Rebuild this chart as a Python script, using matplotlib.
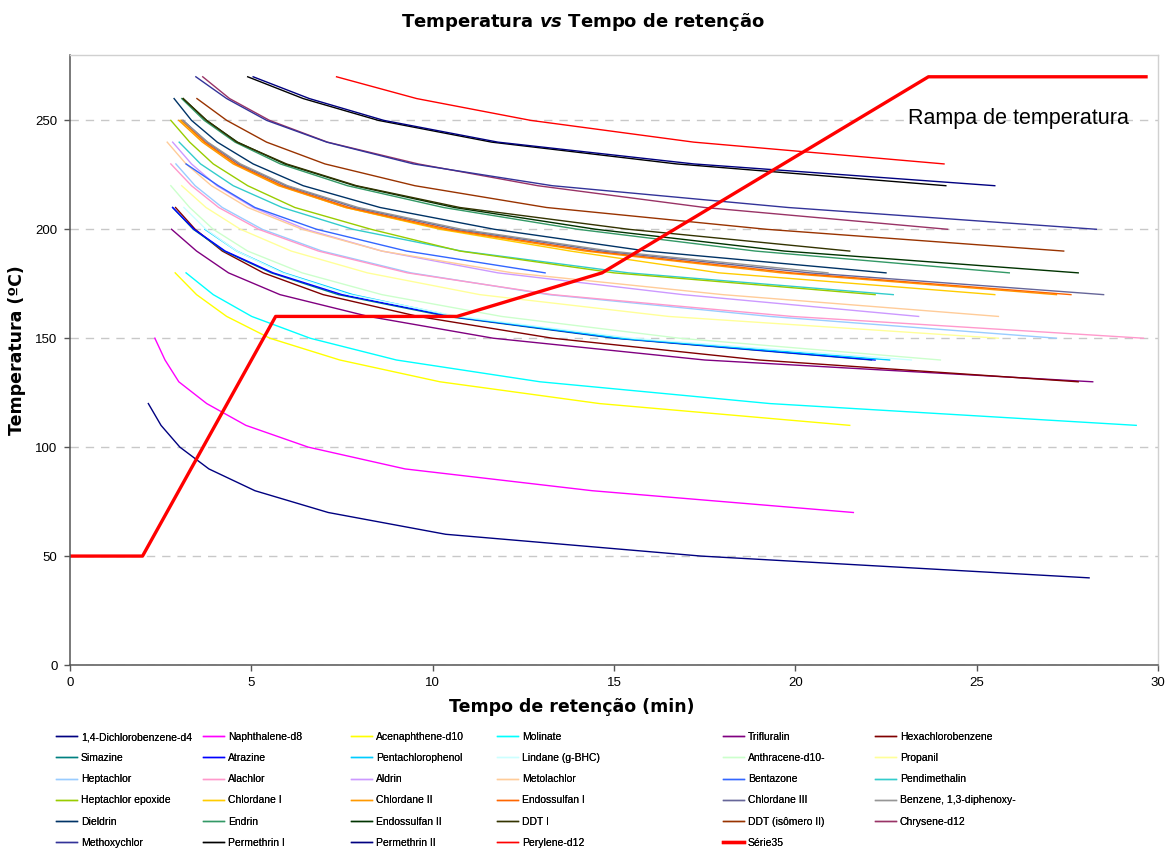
import matplotlib
matplotlib.use("Agg")
import matplotlib.pyplot as plt

plt.rcParams['font.family'] = ['Liberation Sans', 'DejaVu Sans']
plt.rcParams['mathtext.fontset'] = 'custom'
plt.rcParams['mathtext.bfit'] = 'DejaVu Sans:bold:italic'

# compound names (legend order), colours, temperatures (start -> end) and retention times
names = ['1,4-Dichlorobenzene-d4', 'Naphthalene-d8', 'Acenaphthene-d10', 'Molinate',
         'Trifluralin', 'Hexachlorobenzene', 'Simazine', 'Atrazine', 'Pentachlorophenol',
         'Lindane (g-BHC)', 'Anthracene-d10-', 'Propanil', 'Heptachlor', 'Alachlor', 'Aldrin',
         'Metolachlor', 'Bentazone', 'Pendimethalin', 'Heptachlor epoxide', 'Chlordane I',
         'Chlordane II', 'Endossulfan I', 'Chlordane III', 'Benzene, 1,3-diphenoxy-',
         'Dieldrin', 'Endrin', 'Endossulfan II', 'DDT I', 'DDT (isômero II)', 'Chrysene-d12',
         'Methoxychlor', 'Permethrin I', 'Permethrin II', 'Perylene-d12']

colors = ['#000080', '#FF00FF', '#FFFF00', '#00FFFF', '#800080', '#800000', '#008080',
          '#0000FF', '#00CCFF', '#CCFFFF', '#CCFFCC', '#FFFF99', '#99CCFF', '#FF99CC',
          '#CC99FF', '#FFCC99', '#3366FF', '#33CCCC', '#99CC00', '#FFCC00', '#FF9900',
          '#FF6600', '#666699', '#969696', '#003366', '#339966', '#003300', '#333300',
          '#993300', '#993366', '#333399', '#000000', '#000080', '#FF0000']

t_start = [120, 150, 180, 180, 200, 210, 210, 210, 200, 210, 220, 220, 230, 230, 240,
           240, 230, 240, 250, 250, 250, 250, 250, 250, 260, 260, 260, 260, 260, 270,
           270, 270, 270, 270]

times = [
    [2.16, 2.51, 3.03, 3.83, 5.10, 7.12, 10.36, 17.4, 28.1],
    [2.34, 2.62, 3.0, 3.77, 4.85, 6.57, 9.24, 14.4, 21.6],
    [2.9, 3.49, 4.32, 5.51, 7.44, 10.2, 14.6, 21.5],
    [3.2, 3.95, 5.01, 6.62, 9.0, 12.96, 19.3, 29.4],
    [2.8, 3.49, 4.37, 5.79, 8.23, 11.67, 17.5, 28.2],
    [2.91, 3.45, 4.2, 5.33, 6.98, 9.6, 13.3, 19.0, 27.8],
    [2.83, 3.4, 4.25, 5.55, 7.4, 10.4, 15.0, 22.1],
    [2.83, 3.42, 4.28, 5.6, 7.5, 10.5, 15.1, 22.2],
    [3.72, 4.6, 5.9, 7.8, 10.6, 15.2, 22.6],
    [3.14, 3.75, 4.6, 5.85, 7.7, 10.7, 15.5, 23.2],
    [2.78, 3.3, 3.95, 4.9, 6.4, 8.6, 11.9, 16.8, 24.0],
    [3.08, 3.75, 4.7, 6.1, 8.2, 11.3, 16.5, 25.6],
    [2.92, 3.45, 4.2, 5.3, 6.95, 9.4, 13.2, 19.3, 27.2],
    [2.78, 3.35, 4.1, 5.2, 6.85, 9.3, 13.3, 19.9, 29.6],
    [2.83, 3.35, 4.05, 5.05, 6.5, 8.6, 11.8, 16.9, 23.4],
    [2.68, 3.2, 3.9, 4.9, 6.4, 8.6, 12.2, 18.0, 25.6],
    [3.2, 4.09, 5.1, 6.8, 9.28, 13.1],
    [3.01, 3.6, 4.5, 5.85, 7.8, 10.8, 15.4, 22.7],
    [2.78, 3.3, 3.95, 4.9, 6.2, 8.3, 10.75, 15.0, 22.2],
    [3.05, 3.7, 4.55, 5.8, 7.6, 10.2, 13.8, 17.9, 25.5],
    [3.0, 3.65, 4.5, 5.75, 7.6, 10.3, 14.2, 19.6, 27.2],
    [3.08, 3.72, 4.58, 5.85, 7.7, 10.45, 14.4, 19.9, 27.6],
    [3.12, 3.78, 4.65, 5.95, 7.85, 10.65, 14.7, 20.4, 28.5],
    [3.1, 3.8, 4.7, 6.0, 7.95, 10.8, 14.9, 20.9],
    [2.87, 3.35, 4.06, 5.05, 6.43, 8.55, 11.7, 15.9, 22.5],
    [3.08, 3.7, 4.55, 5.8, 7.65, 10.3, 14.0, 18.9, 25.9],
    [3.12, 3.76, 4.62, 5.92, 7.85, 10.6, 14.5, 19.7, 27.8],
    [3.12, 3.77, 4.6, 5.97, 7.9, 10.75, 15.4, 21.5],
    [3.5, 4.32, 5.42, 7.03, 9.51, 13.14, 19.2, 27.4],
    [3.66, 4.4, 5.5, 7.1, 9.6, 12.9, 17.5, 24.2],
    [3.47, 4.32, 5.42, 7.08, 9.47, 13.3, 19.8, 28.3],
    [4.9, 6.43, 8.5, 11.63, 16.73, 24.15],
    [5.05, 6.6, 8.65, 11.8, 17.2, 25.5],
    [7.35, 9.56, 12.7, 17.2, 24.1],
]

# oven temperature programme
ramp_time = [0, 2, 5.67, 10.67, 14.67, 23.67, 29.67]
ramp_temp = [50, 50, 160, 160, 180, 270, 270]

fig = plt.figure(figsize=(11.65, 8.48), dpi=100)
ax = fig.add_axes([70 / 1165, 1 - 665 / 848, 1088 / 1165, 610 / 848])

handles = []
for name, col, t0, tr in zip(names, colors, t_start, times):
    temps = [t0 - 10 * i for i in range(len(tr))]
    h, = ax.plot(tr, temps, color=col, lw=1.0, label=name)
    handles.append(h)
h, = ax.plot(ramp_time, ramp_temp, color='#FF0000', lw=2.4, label='Série35')
handles.append(h)

ax.set_xlim(0, 30)
ax.set_ylim(0, 280)
ax.set_xticks(range(0, 31, 5))
ax.set_yticks(range(0, 251, 50))
ax.grid(axis='y', color='#c8c8c8', linestyle=(0, (6, 5)), lw=1.0)
ax.set_axisbelow(True)
for s in ['left', 'bottom']:
    ax.spines[s].set_color('#555555')
    ax.spines[s].set_linewidth(1.1)
for s in ['top', 'right']:
    ax.spines[s].set_color('#d0d0d0')
    ax.spines[s].set_linewidth(1.0)
ax.tick_params(direction='out', length=4, width=1, color='#555555', labelsize=9.5, pad=5)

ax.text(23.1, 251, 'Rampa de temperatura', fontsize=15.5, ha='left', va='center')

lab_font = dict(family='DejaVu Sans', fontsize=12.5, fontweight='bold')
ax.set_xlabel('Tempo de retenção (min)', **lab_font)
ax.set_ylabel('Temperatura (ºC)', **lab_font)
ax.xaxis.set_label_coords((572 - 70) / 1088, -(698 - 665) / 610)
ax.yaxis.set_label_coords(-(70 - 26) / 1088, (665 - 350) / 610)
fig.text(0.5, 1 - 22 / 848, r'Temperatura $\mathbfit{vs}$ Tempo de retenção',
         family='DejaVu Sans', fontsize=13, fontweight='bold', ha='center', va='center')

# legend: 6 columns, filled row by row
col_x = [56, 203, 351, 497, 723, 875]
for c, x0 in enumerate(col_x):
    sub = handles[c::6]
    leg = fig.legend(handles=sub, labels=[hh.get_label() for hh in sub],
                     loc='upper left', bbox_to_anchor=(x0 / 1165, 1 - 732 / 848),
                     frameon=False, fontsize=7.5, handlelength=2.0, handletextpad=0.4,
                     labelspacing=1.07, borderpad=0, borderaxespad=0)
    fig.add_artist(leg)

fig.savefig('out.png', dpi=100)
